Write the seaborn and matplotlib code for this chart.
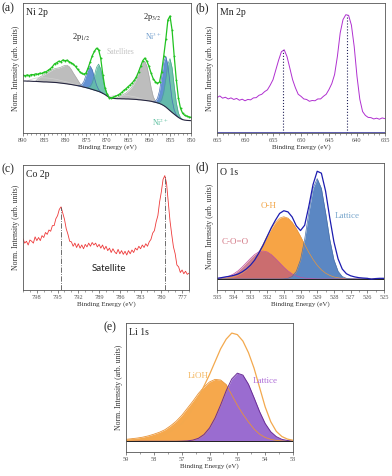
import numpy as np
import matplotlib
matplotlib.use("Agg")
import matplotlib.pyplot as plt
from matplotlib.ticker import MultipleLocator
import seaborn as sns

sns.set_theme(style="white")
plt.rcParams["font.family"] = ["Liberation Serif", "DejaVu Serif"]
plt.rcParams["mathtext.fontset"] = "stix"

# ---------------- (a) Ni 2p : 0.5 eV steps, 890 -> 850 eV
ni_energy = np.linspace(890, 850, 81)
ni_counts = [0.445, 0.44, 0.447, 0.442, 0.45, 0.448, 0.455, 0.452, 0.46, 0.458,
             0.468, 0.472, 0.482, 0.495, 0.51, 0.532, 0.54, 0.552, 0.548, 0.562,
             0.556, 0.56, 0.548, 0.54, 0.528, 0.512, 0.49, 0.472, 0.458, 0.452,
             0.462, 0.50, 0.548, 0.595, 0.628, 0.652, 0.64, 0.575, 0.45, 0.35,
             0.30, 0.272, 0.27, 0.276, 0.282, 0.29, 0.30, 0.312, 0.328, 0.34,
             0.356, 0.37, 0.386, 0.405, 0.432, 0.47, 0.512, 0.556, 0.576, 0.552,
             0.512, 0.46, 0.418, 0.395, 0.382, 0.392, 0.47, 0.59, 0.72, 0.87,
             0.90, 0.79, 0.59, 0.41, 0.27, 0.19, 0.152, 0.136, 0.13, 0.124, 0.12]
ni_background = [0.400, 0.400, 0.399, 0.399, 0.398, 0.397, 0.397, 0.396, 0.395, 0.394,
                 0.393, 0.393, 0.392, 0.391, 0.390, 0.389, 0.388, 0.386, 0.384, 0.382,
                 0.380, 0.378, 0.375, 0.373, 0.370, 0.367, 0.364, 0.361, 0.357, 0.353,
                 0.349, 0.345, 0.340, 0.335, 0.330, 0.325, 0.320, 0.313, 0.305, 0.296,
                 0.285, 0.274, 0.268, 0.266, 0.265, 0.264, 0.264, 0.263, 0.263, 0.262,
                 0.262, 0.261, 0.260, 0.259, 0.258, 0.256, 0.255, 0.253, 0.251, 0.249,
                 0.247, 0.244, 0.240, 0.236, 0.232, 0.227, 0.220, 0.211, 0.200, 0.186,
                 0.172, 0.158, 0.145, 0.132, 0.120, 0.110, 0.103, 0.099, 0.097, 0.096, 0.095]
# fitted components, heights above background, 0.5 eV steps from the start energy
sat_broad_start, sat_broad = 889.0, [0.0, 0.008, 0.015, 0.02, 0.025, 0.028, 0.03, 0.031, 0.031,
                                     0.031, 0.03, 0.029, 0.028, 0.026, 0.024, 0.022, 0.02, 0.018,
                                     0.016, 0.014, 0.012, 0.01, 0.008, 0.006, 0.004, 0.002, 0.0]
sat_left_start, sat_left = 887.0, [0.0, 0.02, 0.035, 0.045, 0.055, 0.065, 0.075, 0.085, 0.097,
                                   0.105, 0.11, 0.115, 0.122, 0.132, 0.14, 0.143, 0.135, 0.115,
                                   0.09, 0.068, 0.045, 0.022, 0.005, 0.0]
sat_low_start, sat_low = 870.0, [0.0, 0.008, 0.015, 0.02, 0.024, 0.026, 0.028, 0.028, 0.028,
                                 0.027, 0.026, 0.024, 0.022, 0.02, 0.017, 0.014, 0.011, 0.008,
                                 0.005, 0.003, 0.001, 0.0, 0.0, 0.0]
sat_right_start, sat_right = 868.0, [0.0, 0.01, 0.018, 0.026, 0.035, 0.045, 0.058, 0.075, 0.097,
                                     0.125, 0.16, 0.21, 0.26, 0.295, 0.30, 0.265, 0.19, 0.105,
                                     0.04, 0.01, 0.0]
ni3_p12_start, ni3_p12 = 877.0, [0.001, 0.004, 0.015, 0.044, 0.095, 0.150, 0.175, 0.150, 0.095,
                                 0.044, 0.015, 0.004, 0.001]
ni2_p12_start, ni2_p12 = 875.0, [0.001, 0.004, 0.018, 0.052, 0.113, 0.180, 0.21, 0.180, 0.113,
                                 0.052, 0.018, 0.004, 0.001]
ni3_p32_start, ni3_p32 = 859.0, [0.002, 0.008, 0.033, 0.097, 0.211, 0.334, 0.39, 0.334, 0.211,
                                 0.097, 0.033, 0.008, 0.002]
ni2_p32_start, ni2_p32 = 858.0, [0.002, 0.008, 0.034, 0.10, 0.216, 0.343, 0.40, 0.343, 0.216,
                                 0.10, 0.034, 0.008, 0.002]

# ---------------- (b) Mn 2p : 0.5 eV steps, 665 -> 635 eV
mn_energy = np.linspace(665, 635, 61)
mn_counts = [0.272, 0.285, 0.268, 0.275, 0.262, 0.27, 0.258, 0.266, 0.252, 0.26,
             0.248, 0.258, 0.255, 0.27, 0.272, 0.29, 0.298, 0.318, 0.332, 0.368,
             0.41, 0.485, 0.56, 0.625, 0.64, 0.588, 0.50, 0.41, 0.348, 0.298,
             0.282, 0.262, 0.258, 0.244, 0.25, 0.248, 0.262, 0.262, 0.282, 0.298,
             0.335, 0.38, 0.45, 0.59, 0.77, 0.872, 0.91, 0.905, 0.83, 0.665,
             0.435, 0.26, 0.165, 0.135, 0.12, 0.118, 0.108, 0.114, 0.106, 0.116, 0.11]
mn_peaks = [653.3, 641.85]
mn_peak_heights = [0.64, 0.91]

# ---------------- (c) Co 2p : 0.25 eV steps, 800 -> 776 eV
co_energy = np.linspace(800, 776, 97)
co_counts = [0.41, 0.375, 0.39, 0.36, 0.40, 0.39, 0.375, 0.425, 0.395, 0.42,
             0.395, 0.435, 0.42, 0.46, 0.445, 0.48, 0.47, 0.515, 0.515, 0.57,
             0.595, 0.645, 0.665, 0.615, 0.565, 0.49, 0.445, 0.39, 0.385, 0.35,
             0.375, 0.34, 0.37, 0.335, 0.36, 0.33, 0.365, 0.345, 0.375, 0.35,
             0.38, 0.36, 0.375, 0.345, 0.365, 0.335, 0.36, 0.325, 0.35, 0.315,
             0.335, 0.30, 0.33, 0.305, 0.29, 0.325, 0.29, 0.315, 0.285, 0.31,
             0.28, 0.315, 0.29, 0.32, 0.30, 0.335, 0.32, 0.35, 0.33, 0.36,
             0.34, 0.37, 0.35, 0.385, 0.405, 0.455, 0.475, 0.545, 0.595, 0.705,
             0.785, 0.885, 0.915, 0.855, 0.705, 0.555, 0.445, 0.345, 0.29, 0.20,
             0.185, 0.14, 0.16, 0.13, 0.15, 0.125, 0.135]
co_peaks = [794.55, 779.5]
co_peak_heights = [0.665, 0.915]

# ---------------- (d) O 1s : 0.25 eV steps, 535 -> 525 eV
o_energy = np.linspace(535, 525, 41)
o_baseline = 0.087
o_counts = [0.092, 0.097, 0.103, 0.108, 0.115, 0.125, 0.142, 0.165, 0.195, 0.235,
            0.29, 0.35, 0.42, 0.49, 0.55, 0.603, 0.624, 0.615, 0.575, 0.505,
            0.468, 0.51, 0.66, 0.83, 0.935, 0.92, 0.78, 0.57, 0.38, 0.245,
            0.165, 0.128, 0.112, 0.103, 0.097, 0.094, 0.092, 0.085, 0.09, 0.092, 0.092]
o_coo = [0.003, 0.007, 0.013, 0.024, 0.040, 0.063, 0.093, 0.127, 0.161, 0.192,
         0.213, 0.22, 0.213, 0.192, 0.161, 0.127, 0.093, 0.063, 0.040, 0.024,
         0.013, 0.007, 0.003, 0.002, 0, 0, 0, 0, 0, 0,
         0, 0, 0, 0, 0, 0, 0, 0, 0, 0, 0]
o_oh = [0, 0.002, 0.005, 0.009, 0.016, 0.028, 0.046, 0.072, 0.108, 0.154,
        0.209, 0.271, 0.336, 0.396, 0.446, 0.479, 0.49, 0.479, 0.446, 0.396,
        0.336, 0.271, 0.209, 0.154, 0.108, 0.072, 0.046, 0.028, 0.016, 0.009,
        0.005, 0.002, 0, 0, 0, 0, 0, 0, 0, 0, 0]
o_lattice = [0, 0, 0, 0, 0, 0, 0, 0, 0, 0,
             0, 0, 0, 0, 0, 0, 0.001, 0.005, 0.019, 0.060,
             0.151, 0.312, 0.523, 0.713, 0.79, 0.713, 0.523, 0.312, 0.151, 0.060,
             0.019, 0.005, 0.001, 0, 0, 0, 0, 0, 0, 0, 0]

# ---------------- (e) Li 1s : 0.2 eV steps, 59 -> 53 eV
li_energy = np.linspace(59, 53, 31)
li_baseline = 0.083
li_counts = [0.091, 0.093, 0.096, 0.099, 0.104, 0.11, 0.122, 0.14, 0.16, 0.19,
             0.22, 0.27, 0.34, 0.42, 0.51, 0.60, 0.70, 0.80, 0.875, 0.922,
             0.91, 0.86, 0.77, 0.65, 0.50, 0.35, 0.235, 0.16, 0.12, 0.10, 0.091]
li_lioh = [0.015, 0.02, 0.025, 0.032, 0.042, 0.055, 0.07, 0.09, 0.12, 0.155,
           0.20, 0.255, 0.31, 0.37, 0.42, 0.46, 0.48, 0.475, 0.44, 0.36,
           0.28, 0.21, 0.15, 0.095, 0.055, 0.03, 0.015, 0.007, 0.003, 0.001, 0.0]
li_lattice = [0, 0, 0, 0, 0, 0, 0, 0, 0, 0,
              0.001, 0.003, 0.009, 0.023, 0.052, 0.103, 0.181, 0.282, 0.392, 0.483,
              0.528, 0.513, 0.442, 0.338, 0.230, 0.138, 0.074, 0.036, 0.015, 0.006, 0.002]

W, H = 392, 476
fig = plt.figure(figsize=(W / 100, H / 100), dpi=100)


def make_axes(left, top, right, bottom):
    return fig.add_axes([left / W, 1 - bottom / H, (right - left) / W, (bottom - top) / H])


def style_axis(ax, xmax, xmin, major, minor):
    ax.set_xlim(xmax, xmin)
    ax.set_ylim(0, 1)
    ax.set_yticks([])
    ax.xaxis.set_major_locator(MultipleLocator(major))
    ax.xaxis.set_minor_locator(MultipleLocator(minor))
    ax.tick_params(axis="x", which="major", direction="out", length=2, width=0.5,
                   labelsize=4.6, colors="#555555", pad=1.5, bottom=True)
    ax.tick_params(axis="x", which="minor", direction="out", length=1.2, width=0.4,
                   colors="#555555", bottom=True)
    for s in ax.spines.values():
        s.set_color("#555555")
        s.set_linewidth(0.6)
    ax.set_xlabel("Binding Energy (eV)", fontsize=5.0, color="#333333", labelpad=1.2)
    ax.set_ylabel("Norm. Intensity (arb. units)", fontsize=5.6, color="#333333", labelpad=2)


def comp_fill(ax, energy, base, start, heights, step, first, color, edge, alpha):
    i0 = int(round((first - start) / step))
    x = energy[i0:i0 + len(heights)]
    b = np.asarray(base[i0:i0 + len(heights)])
    ax.fill_between(x, b, b + np.asarray(heights), color=color, alpha=alpha, lw=0)
    ax.plot(x, b + np.asarray(heights), color=edge, lw=0.5)


# ---- (a)
ax = make_axes(23, 3, 191, 133)
style_axis(ax, 890, 850, 5, 1)
comp_fill(ax, ni_energy, ni_background, sat_left_start, sat_left, 0.5, 890, "#bdbdbd", "#a8a8a8", 1)
comp_fill(ax, ni_energy, ni_background, sat_right_start, sat_right, 0.5, 890, "#bdbdbd", "#a8a8a8", 1)
i0 = int(round((890 - sat_broad_start) / 0.5))
ax.plot(ni_energy[i0:i0 + len(sat_broad)],
        np.asarray(ni_background[i0:i0 + len(sat_broad)]) + np.asarray(sat_broad), color="#cfcfcf", lw=0.5)
i0 = int(round((890 - sat_low_start) / 0.5))
ax.plot(ni_energy[i0:i0 + len(sat_low)],
        np.asarray(ni_background[i0:i0 + len(sat_low)]) + np.asarray(sat_low), color="#cfcfcf", lw=0.5)
comp_fill(ax, ni_energy, ni_background, ni3_p12_start, ni3_p12, 0.5, 890, "#5b8bd0", "#4a72b4", 0.95)
comp_fill(ax, ni_energy, ni_background, ni3_p32_start, ni3_p32, 0.5, 890, "#5b8bd0", "#4a72b4", 0.95)
comp_fill(ax, ni_energy, ni_background, ni2_p12_start, ni2_p12, 0.5, 890, "#63bfa7", "#4aa890", 0.9)
comp_fill(ax, ni_energy, ni_background, ni2_p32_start, ni2_p32, 0.5, 890, "#63bfa7", "#4aa890", 0.9)
sns.lineplot(x=ni_energy, y=ni_background, ax=ax, color="#262640", lw=0.8, estimator=None)
sns.lineplot(x=ni_energy, y=ni_counts, ax=ax, color="#22c322", lw=0.9, estimator=None,
             marker="o", markersize=1.4, markeredgewidth=0)
ax.text(0.02, 0.96, "Ni 2p", transform=ax.transAxes, fontsize=7, va="top", color="#222222")
ax.text(876.3, 0.735, "2p$_{1/2}$", fontsize=6, ha="center", va="center", color="#222222")
ax.text(866.8, 0.625, "Satellites", fontsize=5.5, ha="center", va="center", color="#c4c4c4")
ax.text(859.4, 0.895, "2p$_{3/2}$", fontsize=6, ha="center", va="center", color="#222222")
ax.text(858.9, 0.745, "Ni$^{3+}$", fontsize=5.5, ha="center", va="center", color="#6e9ccc")
ax.text(857.2, 0.08, "Ni$^{2+}$", fontsize=5.5, ha="center", va="center", color="#5cbf9f")

# ---- (b)
ax = make_axes(217, 3, 385, 133)
style_axis(ax, 665, 635, 5, 1)
sns.lineplot(x=mn_energy, y=mn_counts, ax=ax, color="#b030d0", lw=0.7, estimator=None)
ax.vlines(mn_peaks, 0, mn_peak_heights, colors="#22225a", linestyles=":", lw=0.8)
ax.axhline(0.004, color="#4040a0", lw=0.6)
ax.text(0.02, 0.96, "Mn 2p", transform=ax.transAxes, fontsize=7, va="top", color="#222222")

# ---- (c)
ax = make_axes(23, 165, 189, 290)
style_axis(ax, 800, 776, 3, 1)
sns.lineplot(x=co_energy, y=co_counts, ax=ax, color="#ee3a3a", lw=0.6, estimator=None)
ax.vlines(co_peaks, 0, co_peak_heights, colors="#555555", linestyles="-.", lw=0.6)
ax.text(0.02, 0.96, "Co 2p", transform=ax.transAxes, fontsize=7, va="top", color="#222222")
ax.text(787.6, 0.17, "Satellite", fontsize=7, ha="center", va="center", color="#222222",
        family=["Lato", "DejaVu Sans"])

# ---- (d)
ax = make_axes(217, 163, 384, 290)
style_axis(ax, 535, 525, 1, 0.5)
ax.fill_between(o_energy, o_baseline, o_baseline + np.asarray(o_oh), color="#f7a445", lw=0)
ax.plot(o_energy, o_baseline + np.asarray(o_oh), color="#e9963a", lw=0.5)
ax.fill_between(o_energy, o_baseline, o_baseline + np.asarray(o_coo), color="#c0607a", alpha=0.8, lw=0)
ax.plot(o_energy, o_baseline + np.asarray(o_coo), color="#c050a0", lw=0.5)
ax.fill_between(o_energy, o_baseline, o_baseline + np.asarray(o_lattice), color="#5b87c3", lw=0)
ax.plot(o_energy, o_baseline + np.asarray(o_lattice), color="#4a70aa", lw=0.5)
ax.axhline(o_baseline, color="#222222", lw=0.7)
sns.lineplot(x=o_energy, y=o_counts, ax=ax, color="#1c1cb0", lw=0.9, estimator=None)
ax.text(0.02, 0.96, "O 1s", transform=ax.transAxes, fontsize=7, va="top", color="#222222")
ax.text(531.9, 0.665, "O-H", fontsize=6.5, ha="center", va="center", color="#f2a445")
ax.text(533.9, 0.38, "C-O=O", fontsize=6.5, ha="center", va="center", color="#d27583")
ax.text(527.2, 0.585, "Lattice", fontsize=6.5, ha="center", va="center", color="#78a6cc")

# ---- (e)
ax = make_axes(126, 323, 293, 452)
style_axis(ax, 59, 53, 1, 0.5)
ax.fill_between(li_energy, li_baseline, li_baseline + np.asarray(li_lioh), color="#f6a84c", lw=0)
ax.plot(li_energy, li_baseline + np.asarray(li_lioh), color="#e89438", lw=0.6)
ax.fill_between(li_energy, li_baseline, li_baseline + np.asarray(li_lattice), color="#9a6cd0", lw=0)
ax.plot(li_energy, li_baseline + np.asarray(li_lattice), color="#6a2c96", lw=0.7)
ax.axhline(li_baseline, color="#222222", lw=0.7)
sns.lineplot(x=li_energy, y=li_counts, ax=ax, color="#f3a94e", lw=0.9, estimator=None)
ax.text(0.02, 0.96, "Li 1s", transform=ax.transAxes, fontsize=7, va="top", color="#222222")
ax.text(56.4, 0.59, "LiOH", fontsize=6.5, ha="center", va="center", color="#f4b862")
ax.text(54.0, 0.55, "Lattice", fontsize=6.5, ha="center", va="center", color="#b070d8")

# panel letters
for lab, px, py in [("(a)", 2, 2), ("(b)", 196, 2), ("(c)", 2, 163), ("(d)", 196, 161), ("(e)", 104, 321)]:
    fig.text(px / W, 1 - py / H, lab, fontsize=8.5, va="top", ha="left", color="#222222")

fig.savefig("out.png", dpi=100)
